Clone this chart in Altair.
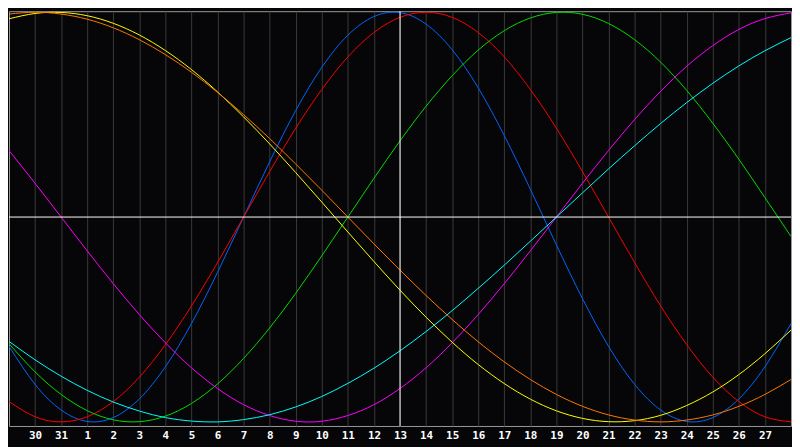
import altair as alt
import pandas as pd

# day offsets relative to "today" (13th), -15 .. +15
day_offsets = list(range(-15, 16))
# axis labels for offsets -14 .. 14
tick_labels = ["30", "31", "1", "2", "3", "4", "5", "6", "7", "8", "9", "10", "11", "12",
               "13", "14", "15", "16", "17", "18", "19", "20", "21", "22", "23", "24",
               "25", "26", "27"]

cycle_names = ["physical", "emotional", "intellectual", "intuitive", "aesthetic", "awareness", "spiritual"]
cycle_colors = ["#0066ff", "#ff0000", "#00dd00", "#ff00ff", "#ffff00", "#ff7700", "#00ffff"]

physical = [-0.631, -0.817, -0.942, -0.998, -0.979, -0.888, -0.731, -0.520, -0.270, 0.000,
            0.270, 0.520, 0.731, 0.888, 0.979, 0.998, 0.942, 0.817, 0.631, 0.398,
            0.136, -0.136, -0.398, -0.631, -0.817, -0.942, -0.998, -0.979, -0.888, -0.731,
            -0.520]
emotional = [-0.901, -0.975, -1.000, -0.975, -0.901, -0.782, -0.623, -0.434, -0.222, 0.000,
             0.222, 0.434, 0.623, 0.782, 0.901, 0.975, 1.000, 0.975, 0.901, 0.782,
             0.623, 0.434, 0.222, 0.000, -0.222, -0.434, -0.623, -0.782, -0.901, -0.975,
             -1.000]
intellectual = [-0.618, -0.756, -0.866, -0.945, -0.990, -0.999, -0.972, -0.910, -0.815, -0.690,
                -0.541, -0.372, -0.189, 0.000, 0.189, 0.372, 0.541, 0.690, 0.815, 0.910,
                0.972, 0.999, 0.990, 0.945, 0.866, 0.756, 0.618, 0.458, 0.282, 0.095,
                -0.095]
intuitive = [0.325, 0.165, 0.000, -0.165, -0.325, -0.476, -0.614, -0.736, -0.837, -0.916,
             -0.969, -0.997, -0.997, -0.969, -0.916, -0.837, -0.736, -0.614, -0.476, -0.325,
             -0.165, 0.000, 0.165, 0.325, 0.476, 0.614, 0.736, 0.837, 0.916, 0.969,
             0.997]
aesthetic = [0.968, 0.994, 0.999, 0.983, 0.946, 0.889, 0.813, 0.720, 0.611, 0.489,
             0.357, 0.217, 0.073, -0.073, -0.217, -0.357, -0.489, -0.611, -0.720, -0.813,
             -0.889, -0.946, -0.983, -0.999, -0.994, -0.968, -0.920, -0.854, -0.769, -0.667,
             -0.552]
awareness = [0.991, 1.000, 0.991, 0.966, 0.924, 0.866, 0.793, 0.707, 0.609, 0.500,
             0.383, 0.259, 0.131, 0.000, -0.131, -0.259, -0.383, -0.500, -0.609, -0.707,
             -0.793, -0.866, -0.924, -0.966, -0.991, -1.000, -0.991, -0.966, -0.924, -0.866,
             -0.793]
spiritual = [-0.607, -0.697, -0.777, -0.846, -0.903, -0.947, -0.979, -0.996, -1.000, -0.989,
             -0.965, -0.927, -0.876, -0.812, -0.738, -0.653, -0.559, -0.457, -0.348, -0.235,
             -0.118, 0.000, 0.118, 0.235, 0.348, 0.457, 0.559, 0.653, 0.738, 0.812,
             0.876]

series = [physical, emotional, intellectual, intuitive, aesthetic, awareness, spiritual]
rows = []
for name, vals in zip(cycle_names, series):
    for d, v in zip(day_offsets, vals):
        rows.append({"cycle": name, "d": d, "v": v})
df = pd.DataFrame(rows)

label_expr = "[" + ",".join("'" + s + "'" for s in tick_labels) + "][datum.value + 14]"

x_scale = alt.Scale(domain=[-15, 15], nice=False, zero=False)
y_scale = alt.Scale(domain=[-1.02, 1.005], nice=False, zero=False)
x_axis = alt.Axis(values=list(range(-14, 15)), labelExpr=label_expr, grid=True,
                  gridColor="#3a3a3a", gridWidth=1, domain=False, ticks=False,
                  labelColor="#ffffff", labelFont="DejaVu Sans Mono", labelFontWeight="bold",
                  labelFontSize=11, labelPadding=4, labelAngle=0, title=None,
                  labelFlush=False, labelOverlap=False)

lines = alt.Chart(df).mark_line(strokeWidth=1, interpolate="natural", clip=True).encode(
    x=alt.X("d:Q", scale=x_scale, axis=x_axis),
    y=alt.Y("v:Q", scale=y_scale, axis=None),
    color=alt.Color("cycle:N", scale=alt.Scale(domain=cycle_names, range=cycle_colors), legend=None),
)

vrule = alt.Chart(pd.DataFrame({"d": [0]})).mark_rule(color="#ffffff", strokeWidth=1).encode(
    x=alt.X("d:Q", scale=x_scale, axis=x_axis)
)
hrule = alt.Chart(pd.DataFrame({"v": [0]})).mark_rule(color="#ffffff", strokeWidth=1).encode(
    y=alt.Y("v:Q", scale=y_scale, axis=None)
)

chart = alt.layer(lines, vrule, hrule).properties(
    width=790, height=419,
    autosize=alt.AutoSizeParams(type="none"),
    padding={"left": 1, "top": 1, "right": 1, "bottom": 19},
    background="#060608",
).configure_view(stroke="#9a9a9a", strokeWidth=1)

chart.save("out.html", embed_options={"renderer": "svg", "actions": False})
